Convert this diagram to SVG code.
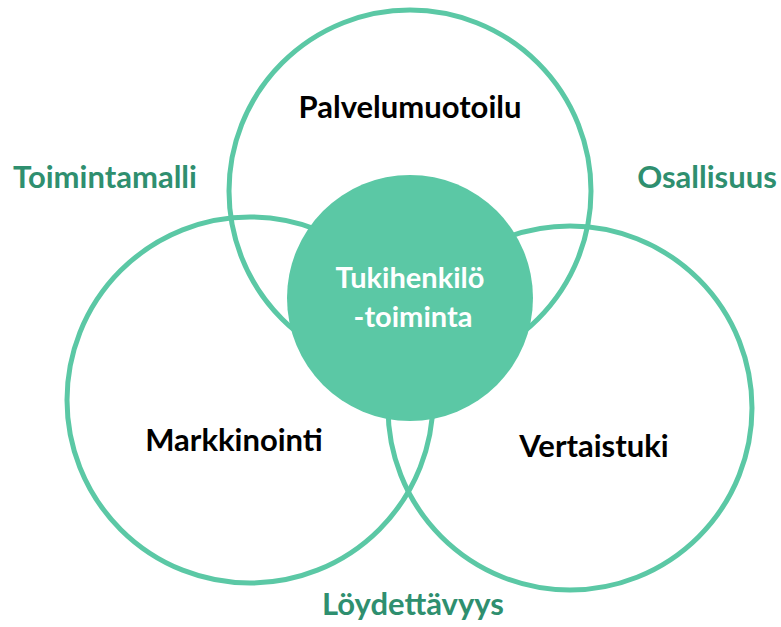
<svg xmlns="http://www.w3.org/2000/svg" width="781" height="627" viewBox="0 0 781 627">
  <style>
    .ring { fill: none; stroke: #5bc8a5; stroke-width: 5; }
    .core { fill: #5bc8a5; }
    text { font-family: Lato, "Liberation Sans", sans-serif; font-weight: 700; font-size: 31px; text-anchor: middle; }
    .name { fill: #000000; }
    .theme { fill: #2f8f6f; }
    .inner { fill: #ffffff; font-size: 29px; }
  </style>
  <rect width="781" height="627" fill="#ffffff"/>

  <!-- three overlapping outline circles -->
  <g id="palvelumuotoilu">
    <circle class="ring" cx="410" cy="191" r="181"/>
    <text class="name" x="410" y="118">Palvelumuotoilu</text>
  </g>
  <g id="markkinointi">
    <circle class="ring" cx="250" cy="400" r="183"/>
    <text class="name" x="234" y="451">Markkinointi</text>
  </g>
  <g id="vertaistuki">
    <circle class="ring" cx="570" cy="408" r="182"/>
    <text class="name" x="594" y="457">Vertaistuki</text>
  </g>

  <!-- filled centre circle -->
  <g id="tukihenkilotoiminta">
    <circle class="core" cx="410" cy="298" r="123"/>
    <text class="inner" x="410" y="288">Tukihenkilö</text>
    <text class="inner" x="413" y="327">-toiminta</text>
  </g>

  <!-- themes between the circles -->
  <g id="toimintamalli">
    <text class="theme" x="105" y="188">Toimintamalli</text>
  </g>
  <g id="osallisuus">
    <text class="theme" x="707" y="188">Osallisuus</text>
  </g>
  <g id="loydettavyys">
    <text class="theme" x="413" y="615">Löydettävyys</text>
  </g>

  <g id="connectors"/>
</svg>
